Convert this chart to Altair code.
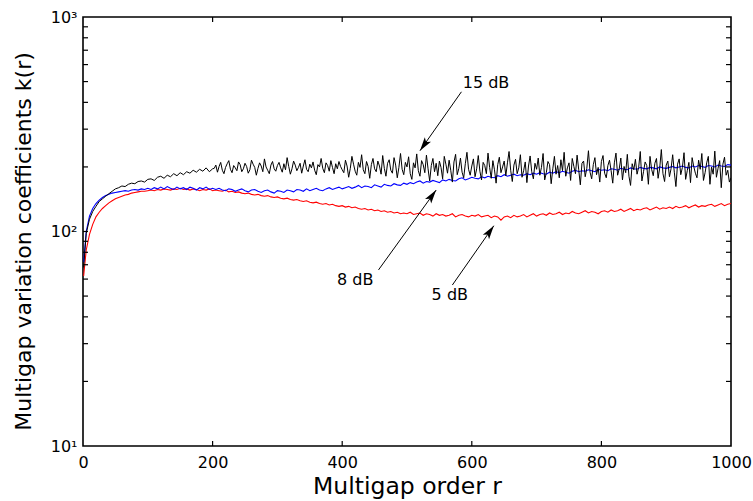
import math
import altair as alt
import pandas as pd

# ---------------- data ----------------
r_values = [1] + list(range(5, 1001, 5))
# the 15 dB curve is sampled more finely where it is noisy
r_15db = [1] + list(range(5, 201, 5)) + [v / 2 for v in range(405, 2001, 5)]

k_15db = [68,
          98, 114, 124, 131, 138, 142, 146, 150, 154, 158,
          160, 163, 162, 166, 168, 167, 171, 172, 170, 175,
          176, 173, 179, 181, 177, 183, 180, 186, 182, 188,
          184, 190, 187, 193, 189, 195, 191, 198, 190, 196,
          197, 204, 189, 201, 210, 193, 186, 199, 207, 214, 195, 188, 203, 198, 192, 211, 205, 190, 196, 208,
          201, 187, 194, 215, 206, 199, 183, 197, 209, 202, 190, 218, 200, 193, 186, 204, 212, 196, 191, 203,
          210, 198, 189, 207, 194, 221, 201, 185, 196, 213, 204, 192, 199, 208, 187, 202, 216, 195, 190, 206,
          198, 211, 193, 184, 205, 200, 219, 197, 188, 209, 203, 191, 214, 199, 186, 207, 196, 212, 201, 194,
          188, 215, 202, 179, 197, 224, 206, 191, 183, 210, 199, 228, 194, 186, 212, 201, 177, 205, 219, 196,
          190, 213, 202, 185, 226, 197, 181, 208, 216, 193, 187, 221, 204, 178, 199, 231, 195, 184, 210, 200,
          223, 186, 175, 209, 198, 230, 192, 181, 214, 205, 188, 227, 196, 172, 203, 219, 190, 208, 182, 213,
          199, 176, 224, 206, 187, 215, 193, 170, 211, 229, 184, 197, 220, 189, 178, 207, 234, 195, 183, 202,
          218, 180, 196, 226, 191, 174, 210, 203, 186, 232, 199, 177, 214, 194, 168, 205, 222, 188, 200, 213,
          182, 209, 236, 193, 171, 204, 217, 186, 198, 228, 179, 192, 211, 169, 202, 225, 190, 176, 208, 195,
          220, 183, 199, 231, 174, 188, 212, 205, 167, 196, 224, 185, 203, 178, 216, 192, 234, 181, 198, 209,
          173, 219, 201, 186, 227, 194, 165, 208, 213, 180, 197, 238, 189, 176, 205, 221, 184, 199, 170, 212,
          226, 187, 178, 203, 215, 192, 168, 209, 232, 183, 196, 220, 174, 201, 188, 229, 181, 164, 207, 194,
          217, 185, 199, 236, 172, 190, 211, 203, 166, 224, 195, 182, 208, 219, 177, 198, 241, 186, 171, 204,
          213, 180, 196, 228, 189, 162, 206, 218, 184, 199, 233, 175, 192, 210, 169, 221, 201, 187, 178, 215,
          195, 231, 173, 188, 209, 224, 166, 200, 185, 237, 179, 197, 214, 160, 206, 222, 183, 193, 170, 178]

k_8db = [72,
         100, 118, 128, 135, 140, 144, 147, 149, 151, 152,
         153, 154, 155, 154, 156, 157, 156, 158, 157, 159,
         157, 160, 158, 161, 158, 162, 159, 157, 161, 158,
         160, 157, 161, 159, 156, 160, 158, 161, 157, 159,
         157, 159, 156, 155, 158, 157, 154, 156, 158, 155,
         153, 156, 157, 154, 152, 155, 156, 153, 151, 155,
         154, 152, 156, 155, 153, 157, 156, 154, 158, 155,
         157, 159, 156, 155, 158, 160, 157, 159, 161, 158,
         160, 162, 159, 161, 164, 160, 163, 162, 160, 165,
         163, 161, 166, 164, 163, 167, 165, 164, 168, 166,
         169, 167, 170, 172, 168, 171, 170, 173, 171, 169,
         174, 172, 175, 173, 172, 176, 178, 174, 176, 179,
         177, 176, 180, 178, 181, 179, 178, 182, 180, 184,
         181, 183, 185, 182, 184, 183, 186, 184, 187, 185,
         188, 186, 185, 189, 187, 190, 188, 191, 189, 187,
         191, 193, 190, 192, 191, 194, 192, 190, 195, 193,
         194, 192, 196, 195, 193, 197, 195, 194, 198, 196,
         195, 199, 197, 196, 199, 198, 196, 200, 198, 197,
         199, 201, 198, 200, 202, 199, 198, 202, 200, 203,
         201, 199, 203, 202, 200, 204, 202, 201, 205, 204]

k_5db = [62,
         82, 97, 108, 117, 123, 128, 132, 136, 139, 142,
         144, 146, 148, 149, 151, 152, 153, 154, 154, 155,
         156, 155, 157, 156, 158, 157, 156, 158, 157, 159,
         157, 158, 156, 158, 157, 155, 157, 156, 158, 155,
         156, 155, 154, 156, 153, 154, 152, 153, 151, 150,
         151, 149, 148, 149, 147, 146, 147, 145, 144, 145,
         143, 142, 143, 141, 140, 141, 139, 138, 139, 137,
         136, 137, 135, 134, 135, 133, 134, 132, 131, 132,
         130, 131, 129, 130, 128, 127, 128, 126, 127, 125,
         126, 124, 125, 123, 124, 122, 123, 121, 122, 121,
         123, 120, 121, 122, 119, 121, 120, 118, 121, 119,
         120, 118, 119, 121, 117, 119, 120, 118, 117, 119,
         118, 120, 117, 118, 119, 116, 118, 117, 113, 117,
         118, 116, 119, 117, 118, 120, 117, 119, 121, 118,
         120, 121, 119, 122, 120, 121, 123, 120, 122, 121,
         124, 122, 121, 123, 125, 122, 124, 123, 121, 124,
         125, 123, 126, 124, 125, 127, 124, 126, 128, 125,
         127, 126, 128, 129, 126, 128, 130, 127, 129, 128,
         130, 128, 131, 129, 130, 132, 129, 131, 133, 130,
         132, 131, 133, 134, 131, 133, 135, 132, 134, 135]

assert len(r_values) == len(k_8db) == len(k_5db), (len(r_values), len(k_8db), len(k_5db))
assert len(r_15db) == len(k_15db), (len(r_15db), len(k_15db))

x_tick_values = [0, 200, 400, 600, 800, 1000]
y_label_values = [10, 100, 1000]
y_inner_ticks = [20, 30, 40, 50, 60, 70, 80, 90, 100,
                 200, 300, 400, 500, 600, 700, 800, 900]
x_inner_ticks = [200, 400, 600, 800]

ann_labels = ["15 dB", "8 dB", "5 dB"]
ann_text_x = [586, 392, 538]
ann_text_y = [494, 59.4, 50.6]
ann_start_x = [584, 456, 570]
ann_start_y = [448, 66.2, 56.3]
ann_tip_x = [520, 545, 634]
ann_tip_y = [238, 156, 106.4]

# ---------------- layout ----------------
W, H = 648, 429
FONT = "DejaVu Sans"

xscale = alt.Scale(domain=[0, 1000], nice=False, zero=False)
yscale = alt.Scale(type="log", domain=[10, 1000], nice=False)

x_axis = alt.Axis(values=x_tick_values, title="Multigap order r", grid=False,
                  ticks=False, domain=False, labelFontSize=16, labelFont=FONT,
                  labelColor="black", labelPadding=8, labelFlush=False,
                  labelOverlap=False, labelBound=False, format="d",
                  titleFont=FONT, titleFontSize=23.5, titleFontWeight="normal",
                  titleColor="black", titleY=47, titleBaseline="alphabetic")
y_axis = alt.Axis(values=y_label_values, title="Multigap variation coefficients k(r)",
                  grid=False, ticks=False, domain=False, labelFontSize=16,
                  labelFont=FONT, labelColor="black", labelPadding=6,
                  labelOverlap=False, labelBound=False,
                  labelExpr="datum.value == 10 ? '10¹' : datum.value == 100 ? '10²' : '10³'",
                  titleFont=FONT, titleFontSize=22, titleFontWeight="normal",
                  titleColor="black", titleX=-53, titleY=224,
                  titleBaseline="alphabetic", titleAngle=270)


def X(field):
    return alt.X(field, scale=xscale, axis=x_axis)


def Y(field):
    return alt.Y(field, scale=yscale, axis=y_axis)


df_main = pd.DataFrame({"r": r_values, "k8": k_8db, "k5": k_5db})
df_15 = pd.DataFrame({"r": r_15db, "k15": k_15db})


def line(df, col, color, width):
    return alt.Chart(df).mark_line(color=color, strokeWidth=width, clip=True).encode(
        x=X("r:Q"), y=Y(f"{col}:Q"), order="r:Q")


red = line(df_main, "k5", "#ff0000", 1.1)
blue = line(df_main, "k8", "#0000ff", 1.1)
black = line(df_15, "k15", "#000000", 1.0)

# inward ticks (MATLAB style box)
ydf = pd.DataFrame({"v": y_inner_ticks})
xdf = pd.DataFrame({"v": x_inner_ticks})
tick_style = dict(color="black", strokeWidth=1.2)
yl = alt.Chart(ydf).mark_rule(**tick_style).encode(
    y=Y("v:Q"), x=alt.value(0), x2=alt.value(5))
yr = alt.Chart(ydf).mark_rule(**tick_style).encode(
    y=Y("v:Q"), x=alt.value(W), x2=alt.value(W - 5))
xb = alt.Chart(xdf).mark_rule(**tick_style).encode(
    x=X("v:Q"), y=alt.value(H), y2=alt.value(H - 5))
xt = alt.Chart(xdf).mark_rule(**tick_style).encode(
    x=X("v:Q"), y=alt.value(0), y2=alt.value(5))


# annotations with arrows
def px(x):
    return x / 1000 * W


def py(v):
    return (3 - math.log10(v)) / 2 * H


angles = []
for sx, sy, ex, ey in zip(ann_start_x, ann_start_y, ann_tip_x, ann_tip_y):
    dx = px(ex) - px(sx)
    dy = py(ey) - py(sy)
    angles.append(math.degrees(math.atan2(dx, -dy)) % 360)

ann = pd.DataFrame({"label": ann_labels, "tx": ann_text_x, "ty": ann_text_y,
                    "sx": ann_start_x, "sy": ann_start_y,
                    "ex": ann_tip_x, "ey": ann_tip_y, "ang": angles})

ann_text = alt.Chart(ann).mark_text(align="left", baseline="middle", fontSize=16,
                                    font=FONT, color="black").encode(
    x=X("tx:Q"), y=Y("ty:Q"), text="label:N")
ann_line = alt.Chart(ann).mark_rule(color="black", strokeWidth=1).encode(
    x=X("sx:Q"), y=Y("sy:Q"), x2="ex:Q", y2="ey:Q")
ann_head = alt.Chart(ann).mark_point(
    shape="M0,0 L0.55,2 L0,1.55 L-0.55,2 Z", filled=True, size=190,
    color="black", opacity=1, strokeWidth=0).encode(
    x=X("ex:Q"), y=Y("ey:Q"), angle=alt.Angle("ang:Q", scale=None))

chart = alt.layer(red, blue, black, yl, yr, xb, xt, ann_line, ann_head, ann_text).properties(
    width=W, height=H,
    autosize=alt.AutoSizeParams(type="none"),
    padding={"left": 83, "top": 17, "right": 22, "bottom": 55},
    background="white",
).configure_view(stroke="black", strokeWidth=1.6)

chart.save("out.html", embed_options={"renderer": "svg", "actions": False})
